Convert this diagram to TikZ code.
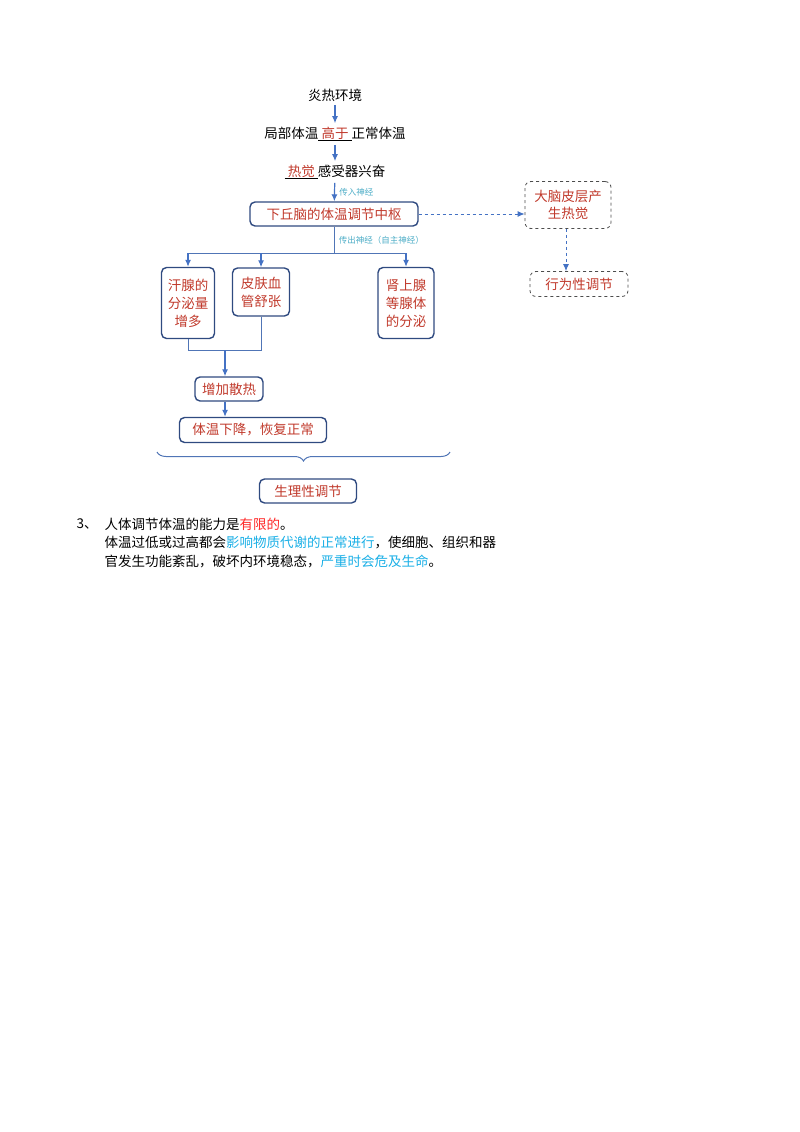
\documentclass[tikz,border=0pt]{standalone}
\usepackage{fontspec}
\setmainfont{Noto Sans CJK SC}
\usetikzlibrary{decorations.pathreplacing,arrows.meta}
\definecolor{boxblue}{HTML}{2F4A80}
\definecolor{arrblue}{HTML}{4472C4}
\definecolor{txtred}{HTML}{C0392B}
\definecolor{lblcyan}{HTML}{4BACC6}
\definecolor{skyblue}{HTML}{1AAFE6}
\begin{document}
\begin{tikzpicture}[x=1pt,y=-1pt,
  font=\fontsize{13.5}{15}\selectfont,
  box/.style={draw=boxblue,line width=1.4pt,rounded corners=5pt,text=txtred,align=center,inner sep=0pt},
  dbox/.style={draw=black!70,dashed,line width=0.8pt,rounded corners=6pt,text=txtred,align=center,inner sep=0pt},
  arr/.style={draw=arrblue,line width=1.2pt,-{Latex[length=7pt,width=6pt]}},
  lin/.style={draw=arrblue!80!gray,line width=1pt},
  lbl/.style={text=lblcyan,font=\fontsize{8.5}{9}\selectfont}]
  \useasboundingbox (0,0) rectangle (800,1132);
  % top chain
  \node (env) at (335,95) {炎热环境};
  \node (local) at (335,134) {局部体温\underline{\textcolor{txtred}{~高于~}}正常体温};
  \node (sense) at (335,172) {\underline{\textcolor{txtred}{~热觉~}}感受器兴奋};
  \node[box,minimum width=168pt,minimum height=24pt] (center) at (334,214) {下丘脑的体温调节中枢};
  \draw[arr] (env) -- (local);
  \draw[arr] (local) -- (sense);
  \draw[arr] (sense) -- (center) node[lbl,midway,right=1pt] {传入神经};
  % behavioural side
  \node[dbox,minimum width=86pt,minimum height=47pt] (cortex) at (568,205) {大脑皮层产\\[2pt]生热觉};
  \node[dbox,minimum width=98pt,minimum height=25pt] (behav) at (579,284) {行为性调节};
  \draw[arr,dashed,line width=0.9pt] (center) -- (cortex.west |- center);
  \draw[arr,dashed,line width=0.9pt] (cortex.south -| 566,0) -- (behav.north -| 566,0);
  % effectors
  \node[box,minimum width=53pt,minimum height=71pt] (sweat) at (188,303) {汗腺的\\[3pt]分泌量\\[3pt]增多};
  \node[box,minimum width=57pt,minimum height=48pt] (skin) at (261,292) {皮肤血\\[3pt]管舒张};
  \node[box,minimum width=56pt,minimum height=71pt] (gland) at (406,303) {肾上腺\\[3pt]等腺体\\[3pt]的分泌};
  \coordinate (fork) at (334,253);
  \draw[lin] (center.south) -- (fork) node[lbl,pos=0.5,right=1pt] {传出神经（自主神经）};
  \draw[lin] (sweat.north |- fork) -- (gland.north |- fork);
  \draw[arr] (sweat.north |- fork) -- (sweat.north);
  \draw[arr] (skin.north |- fork) -- (skin.north);
  \draw[arr] (gland.north |- fork) -- (gland.north);
  % merge
  \node[box,minimum width=68pt,minimum height=24pt] (heat) at (229,389) {增加散热};
  \node[box,minimum width=147pt,minimum height=25pt] (drop) at (253,430) {体温下降，恢复正常};
  \coordinate (join) at (225,350);
  \draw[lin] (sweat.south |- 0,339) -- (sweat.south |- join) -- (skin.south |- join) -- (skin.south);
  \draw[arr] (join) -- (join |- heat.north);
  \draw[arr] (heat.south -| join) -- (drop.north -| join);
  \draw[lin,decorate,decoration={brace,mirror,amplitude=9pt}] (157,452) -- (450,452);
  \node[box,minimum width=97pt,minimum height=24pt] (physio) at (308,491) {生理性调节};
  % notes
  \node[anchor=west] (num) at (73,524) {3、};
  \node[anchor=west] (l1) at (101,524) {人体调节体温的能力是\textcolor{red!85}{有限的}。};
  \node[anchor=west] (l2) at (101,543) {体温过低或过高都会\textcolor{skyblue}{影响物质代谢的正常进行}，使细胞、组织和器};
  \node[anchor=west] (l3) at (101,561) {官发生功能紊乱，破坏内环境稳态，\textcolor{skyblue}{严重时会危及生命}。};
\end{tikzpicture}
\end{document}
